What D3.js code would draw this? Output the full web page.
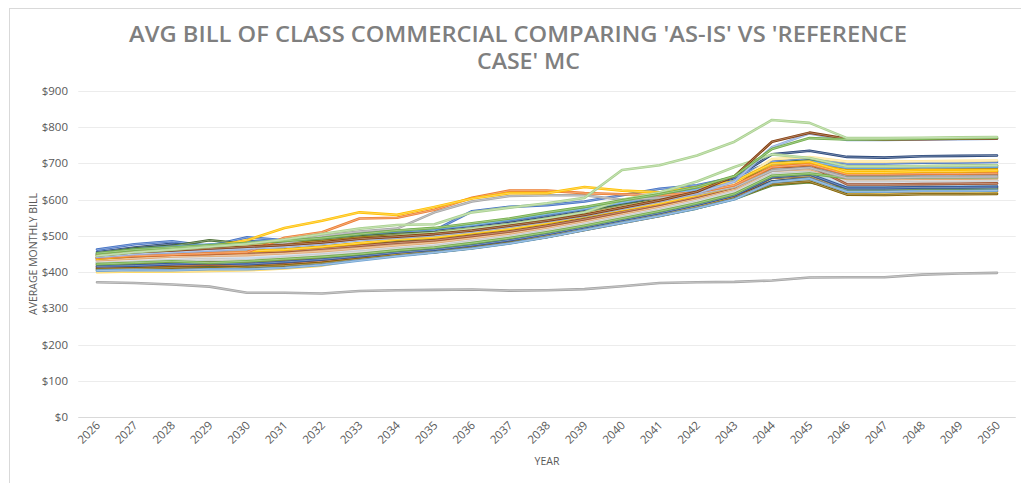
<!DOCTYPE html>
<html>
<head>
<meta charset="utf-8">
<script src="https://cdn.jsdelivr.net/npm/d3@7"></script>
<style>
  body { margin: 0; background: #fff; }
  text { font-family: "Open Sans", "DejaVu Sans", sans-serif; }
</style>
</head>
<body>
<svg id="chart" width="1021" height="483"></svg>
<script>
// ---------------------------------------------------------------------------
// data
const years = d3.range(2026, 2051).map(String);
const yTicks = [0, 100, 200, 300, 400, 500, 600, 700, 800, 900];

// the lone 'as-is' line at the bottom
const asIs = [372,370,366,360,343,343,341,348,350,351,352,349,350,353,361,370,372,373,377,385,386,386,393,396,398];

// the reference-case bundle
const bills = [
  [455,468,478,470,485,482,495,505,512,518,528,540,555,572,590,608,630,660,725,735,718,716,720,721,722],
  [462,477,485,472,496,488,492,500,508,515,568,580,585,595,612,630,640,662,705,712,700,700,702,703,704],
  [450,465,472,488,478,485,490,498,505,510,520,532,548,565,585,600,622,648,700,708,690,690,692,693,694],
  [448,460,470,475,480,478,485,495,500,505,518,530,545,560,578,596,615,640,695,702,685,685,686,687,688],
  [435,440,445,448,450,455,462,470,478,485,495,508,525,542,562,582,605,632,690,696,672,672,673,674,675],
  [430,436,440,442,445,450,458,465,472,480,492,505,520,538,558,578,600,628,682,688,660,661,662,662,663],
  [438,445,450,446,452,458,465,475,485,492,505,518,535,552,572,590,612,638,688,692,668,668,669,670,670],
  [425,430,435,440,438,444,450,458,468,475,488,500,516,535,555,575,598,625,680,688,650,650,652,652,653],
  [420,425,430,432,428,432,438,445,455,462,475,488,505,525,545,565,588,615,650,660,630,630,632,632,633],
  [432,438,442,446,448,452,460,468,475,482,494,506,522,540,560,580,603,630,685,690,665,665,666,667,667],
  [440,448,452,455,458,462,470,478,486,492,504,516,532,550,570,588,610,635,695,700,675,675,676,677,678],
  [427,432,436,438,440,445,452,460,468,476,488,500,516,534,554,574,596,622,665,672,642,642,644,644,645],
  [445,455,462,466,472,475,482,490,498,505,516,528,544,560,580,598,620,645,712,718,705,705,706,707,708],
  [418,422,428,430,432,438,445,452,460,468,480,494,510,528,548,568,592,618,668,675,648,648,650,650,651],
  [410,412,415,418,415,420,428,438,448,456,468,482,498,518,538,558,580,605,650,660,635,635,636,636,637],
  [436,442,446,450,452,455,462,470,478,486,498,510,526,544,564,584,606,632,678,684,655,655,657,657,658],
  [415,420,425,428,425,430,436,444,452,460,472,486,502,522,542,562,585,612,660,665,625,625,627,627,628],
  [412,415,418,420,418,422,430,440,450,458,470,484,500,520,540,560,582,608,645,655,620,620,622,622,623],
  [405,408,410,412,410,415,422,434,446,455,466,480,497,517,537,556,576,602,640,648,628,628,630,630,631],
  [400,402,401,403,405,410,418,435,447,456,467,481,498,518,538,556,578,603,645,652,615,615,617,617,618],
  [422,428,432,435,436,440,448,456,464,472,484,497,513,531,552,572,594,620,672,678,640,640,642,642,643],
  [408,410,412,410,414,418,425,436,446,455,467,481,497,516,536,555,577,603,643,650,614,613,615,615,616],
  [428,434,438,441,443,448,455,463,470,478,490,503,519,537,557,577,600,626,676,682,648,648,650,650,651],
  [416,418,422,425,422,428,435,444,454,462,474,488,505,524,544,563,586,612,662,670,632,632,634,634,635],
  [424,428,432,436,432,440,448,456,465,472,485,498,514,532,552,572,595,622,670,676,652,652,653,653,654],
  [433,438,443,445,447,452,458,466,474,482,494,507,523,541,561,581,604,630,680,685,657,657,658,658,659],
  [404,406,405,408,408,412,420,432,444,454,465,479,496,516,536,555,576,601,648,658,622,622,624,624,625],
  [438,444,448,450,454,458,465,473,481,488,500,512,528,546,566,586,608,634,690,694,642,642,643,644,645],
  [422,426,430,426,430,436,442,450,460,468,480,494,510,528,548,568,590,616,666,672,660,660,661,661,662],
  [450,462,470,476,482,488,495,505,514,520,530,545,560,575,592,610,628,652,698,706,688,688,690,690,691],
  [437,446,450,455,458,462,470,480,490,496,508,520,536,554,572,590,612,636,692,698,680,680,681,681,682],
  [440,448,452,458,462,480,500,512,520,565,595,610,612,612,600,605,615,635,680,688,660,660,662,662,663],
  [440,445,448,452,455,495,510,548,550,572,605,625,625,618,615,612,620,640,690,698,670,670,672,672,673],
  [445,455,460,470,488,522,542,565,558,580,603,618,618,635,625,620,635,650,700,705,675,675,678,678,680],
  [444,452,458,462,468,472,480,490,500,508,520,532,548,565,600,620,650,690,725,715,692,692,693,694,695],
  [442,450,455,460,465,470,478,488,495,502,512,525,540,556,575,595,618,650,745,783,765,765,766,767,768],
  [446,455,460,465,470,475,482,492,498,505,515,528,542,558,578,598,622,665,760,785,768,766,767,768,769],
  [452,462,468,474,480,486,494,505,515,522,535,548,565,580,598,615,635,665,740,770,766,767,768,770,771],
  [445,455,462,470,478,490,505,520,530,532,565,578,590,605,682,695,722,760,820,812,770,770,771,772,773]
];

const lineColors = [
  '#264478','#4472C4','#43682B','#997300','#5B9BD5','#F4B183','#BF9000','#2E75B6',
  '#C55A11','#7F7F7F','#385723','#9DC3E6','#FFE699','#F8CBAD','#1F4E79','#B4B4B4',
  '#8C6D31','#9E480E','#548235','#FFD966','#BDD7EE','#806000','#D6DCE5','#2F5597',
  '#C9C9C9','#E2A66D','#6FA3D4','#A0522D','#70AD47','#5B9BD5','#FFC000','#A5A5A5',
  '#ED7D31','#FFC000','#A9D18E','#8FAADC','#843C0C','#70AD47','#A9D18E'
];

// ---------------------------------------------------------------------------
const svg = d3.select('#chart');
const margin = {left: 78.25, right: 1015.75, top: 91, bottom: 417};

svg.append('rect')
   .attr('x', 9.5).attr('y', 8.5)
   .attr('width', 1030).attr('height', 500)
   .attr('fill', '#fff')
   .attr('stroke', '#d9d9d9');

let x = d3.scalePoint()
          .domain(years)
          .range([margin.left, margin.right])
          .padding(0.5);

let y = d3.scaleLinear()
          .domain([0, 900])
          .range([margin.bottom, margin.top]);

// title
let title = svg.append('g')
               .attr('fill', '#7f7f7f')
               .style('font-weight', 600)
               .style('font-size', '22px');

title.append('text')
     .attr('x', 129).attr('y', 42)
     .attr('textLength', 778)
     .attr('lengthAdjust', 'spacingAndGlyphs')
     .text("AVG BILL OF CLASS COMMERCIAL COMPARING 'AS-IS' VS 'REFERENCE");

title.append('text')
     .attr('x', 477).attr('y', 69)
     .attr('textLength', 103)
     .attr('lengthAdjust', 'spacingAndGlyphs')
     .text("CASE' MC");

// gridlines + y labels
let yAxis = svg.append('g');

yAxis.selectAll('line')
     .data(yTicks)
     .join('line')
     .attr('x1', margin.left).attr('x2', margin.right)
     .attr('y1', d => Math.round(y(d)) + 0.5)
     .attr('y2', d => Math.round(y(d)) + 0.5)
     .attr('stroke', d => d == 0 ? '#d9d9d9' : '#ececec');

yAxis.selectAll('text')
     .data(yTicks)
     .join('text')
     .attr('x', 68)
     .attr('y', d => y(d) + 4)
     .attr('text-anchor', 'end')
     .attr('fill', '#595959')
     .style('font-size', '11.5px')
     .text(d => d3.format('$,')(d));

// category labels
svg.append('g')
   .selectAll('text')
   .data(years)
   .join('text')
   .attr('transform', d => `translate(${x(d) + 4},${426}) rotate(-45)`)
   .attr('text-anchor', 'end')
   .attr('fill', '#595959')
   .style('font-size', '11.5px')
   .text(d => d);

// axis titles
svg.append('text')
   .attr('transform', `translate(37,${(margin.top + margin.bottom) / 2}) rotate(-90)`)
   .attr('text-anchor', 'middle')
   .attr('fill', '#595959')
   .style('font-size', '10.5px')
   .text('AVERAGE MONTHLY BILL');

svg.append('text')
   .attr('x', (margin.left + margin.right) / 2)
   .attr('y', 465)
   .attr('text-anchor', 'middle')
   .attr('fill', '#595959')
   .style('font-size', '10.5px')
   .text('YEAR');

// lines
let line = d3.line()
             .x((d, i) => x(years[i]))
             .y(d => y(d));

let allSeries = [asIs].concat(bills);
let allColors = ['#A5A5A5'].concat(lineColors);

let lines = svg.append('g')
               .attr('fill', 'none')
               .attr('stroke-linejoin', 'round')
               .attr('stroke-linecap', 'round');

allSeries.forEach(function (s, i) {
  lines.append('path')
       .attr('d', line(s))
       .attr('stroke', allColors[i])
       .attr('stroke-width', 2.6);
  // excel's lines come out with a lighter core in the screenshot
  lines.append('path')
       .attr('d', line(s))
       .attr('stroke', '#fff')
       .attr('stroke-opacity', 0.45)
       .attr('stroke-width', 0.8);
});
</script>
</body>
</html>
